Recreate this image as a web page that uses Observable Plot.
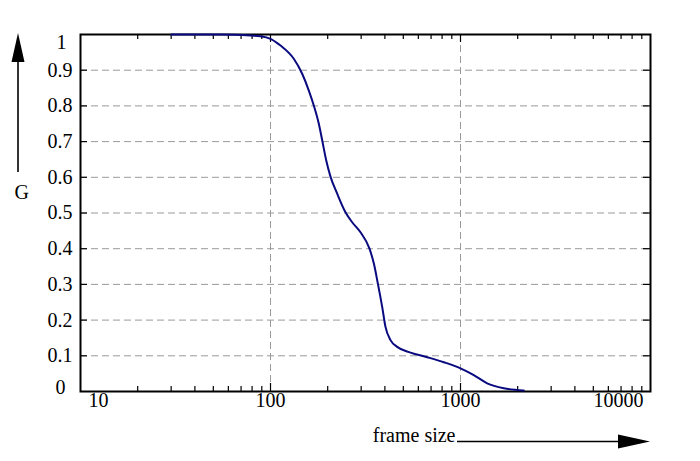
<!DOCTYPE html>
<html>
<head>
<meta charset="utf-8">
<script src="https://cdn.jsdelivr.net/npm/d3@7"></script>
<script src="https://cdn.jsdelivr.net/npm/@observablehq/plot@0.6"></script>
<style>
  html, body { margin: 0; padding: 0; background: #fff; overflow: hidden; }
  #chart svg { display: block; }
</style>
</head>
<body>
<div id="chart"></div>
<script>
// ---- data ----
const frameSize = [30, 55, 78.5, 88.6, 100, 112.9, 132.6, 146.8, 159.1, 169.0, 179.6, 187.2, 196.5, 206.9, 224.4, 248.1, 269.2, 297.6, 331.9, 349.7, 367.1, 387.1, 402.9, 428.2, 464.4, 545.6, 667.9, 816.8, 1000, 1175, 1382, 1690, 2154];
const gValue    = [1.0, 1.0, 0.997, 0.995, 0.988, 0.969, 0.932, 0.890, 0.843, 0.801, 0.750, 0.703, 0.647, 0.602, 0.554, 0.502, 0.474, 0.446, 0.400, 0.359, 0.303, 0.237, 0.181, 0.144, 0.125, 0.109, 0.096, 0.082, 0.065, 0.046, 0.023, 0.009, 0.003];

const xTickValues = [10, 100, 1000, 10000];
const xTickLabels = ["10", "100", "1000", "10000"];
const xGridValues = [100, 1000];
const xMinorTicks = [20, 30, 40, 50, 60, 70, 80, 90, 200, 300, 400, 500, 600, 700, 800, 900, 2000, 3000, 4000, 5000, 6000, 7000, 8000, 9000];
const yTickValues = [0, 0.1, 0.2, 0.3, 0.4, 0.5, 0.6, 0.7, 0.8, 0.9, 1];
const yTickLabels = ["0", "0.1", "0.2", "0.3", "0.4", "0.5", "0.6", "0.7", "0.8", "0.9", "1"];
const yGridValues = [0.1, 0.2, 0.3, 0.4, 0.5, 0.6, 0.7, 0.8, 0.9];
const xLabel = "frame size";
const yLabel = "G";

// ---- build ----
const W = 700, H = 461;
const mL = 80, mR = 50, mT = 34, mB = 70;
const fw = W - mL - mR, fh = H - mT - mB;
const font = "Liberation Serif, Times New Roman, serif";
const fs = 20;
const gridStyle = {stroke: "#9a9a9a", strokeWidth: 1, strokeDasharray: "7,4"};

const series = frameSize.map((x, i) => ({x, g: gValue[i]}));
const xt = xTickValues.map((v, i) => ({v, label: xTickLabels[i]}));
const yt = yTickValues.map((v, i) => ({v, label: yTickLabels[i]}));

const chart = Plot.plot({
  width: W, height: H,
  marginLeft: mL, marginRight: mR, marginTop: mT, marginBottom: mB,
  style: {fontFamily: font, fontSize: fs + "px", background: "#fff", color: "black"},
  x: {type: "log", domain: [10, 10000], axis: null},
  y: {domain: [0, 1], axis: null},
  marks: [
    Plot.ruleY(yGridValues, gridStyle),
    Plot.ruleX(xGridValues, gridStyle),
    // inward ticks
    Plot.tickX(xMinorTicks, {x: d => d, insetTop: fh - 5, stroke: "black", strokeWidth: 1.2}),
    Plot.tickX(xMinorTicks, {x: d => d, insetBottom: fh - 5, stroke: "black", strokeWidth: 1.2}),
    Plot.tickX(xGridValues, {x: d => d, insetTop: fh - 8, stroke: "black", strokeWidth: 1.2}),
    Plot.tickX(xGridValues, {x: d => d, insetBottom: fh - 8, stroke: "black", strokeWidth: 1.2}),
    Plot.tickY(yGridValues, {y: d => d, insetRight: fw - 7, stroke: "black", strokeWidth: 1.2}),
    Plot.tickY(yGridValues, {y: d => d, insetLeft: fw - 7, stroke: "black", strokeWidth: 1.2}),
    Plot.frame({stroke: "black", strokeWidth: 2}),
    // curve
    Plot.line(series, {x: "x", y: "g", stroke: "#0a0a80", strokeWidth: 2, curve: "monotone-x"}),
    // x tick labels
    Plot.text(xt.filter((d, i) => i > 0 && i < xt.length - 1), {x: "v", text: "label", frameAnchor: "bottom", dy: 15, fontSize: fs, fill: "black"}),
    Plot.text(xt.filter((d, i) => i === 0), {x: "v", text: "label", frameAnchor: "bottom", dy: 15, dx: 8, textAnchor: "start", fontSize: fs, fill: "black"}),
    Plot.text(xt.filter((d, i) => i === xt.length - 1), {x: "v", text: "label", frameAnchor: "bottom", dy: 15, dx: -7, textAnchor: "end", fontSize: fs, fill: "black"}),
    // y tick labels
    Plot.text(yt.filter((d, i) => i > 0 && i < yt.length - 1), {y: "v", text: "label", frameAnchor: "left", dx: -8, textAnchor: "end", fontSize: fs, fill: "black"}),
    Plot.text(yt.filter((d, i) => i === 0), {y: "v", text: "label", frameAnchor: "left", dx: -15, dy: -4, textAnchor: "end", fontSize: fs, fill: "black"}),
    Plot.text(yt.filter((d, i) => i === yt.length - 1), {y: "v", text: "label", frameAnchor: "left", dx: -14, dy: 8, textAnchor: "end", fontSize: fs, fill: "black"}),
    // axis labels
    Plot.text([xLabel], {text: d => d, frameAnchor: "bottom-right", dx: -195, dy: 50, textAnchor: "end", fontSize: fs, fill: "black"}),
    Plot.text([yLabel], {text: d => d, frameAnchor: "left", dx: -66, dy: -20, fontSize: fs, fill: "black"})
  ]
});

// axis arrows (decorations)
const svg = d3.select(chart);
const gArrow = svg.append("g").attr("fill", "black").attr("stroke", "black");
// vertical arrow above "G"
gArrow.append("line").attr("x1", 18).attr("x2", 18).attr("y1", 172).attr("y2", 60).attr("stroke-width", 1.6);
gArrow.append("path").attr("d", "M18,33 L11.5,62 L24.5,62 Z").attr("stroke", "none");
// horizontal arrow after "frame size"
gArrow.append("line").attr("x1", 457).attr("x2", 622).attr("y1", 441.5).attr("y2", 441.5).attr("stroke-width", 1.6);
gArrow.append("path").attr("d", "M650,441.5 L618,434.5 L618,448.5 Z").attr("stroke", "none");

document.getElementById("chart").append(chart);
</script>
</body>
</html>
